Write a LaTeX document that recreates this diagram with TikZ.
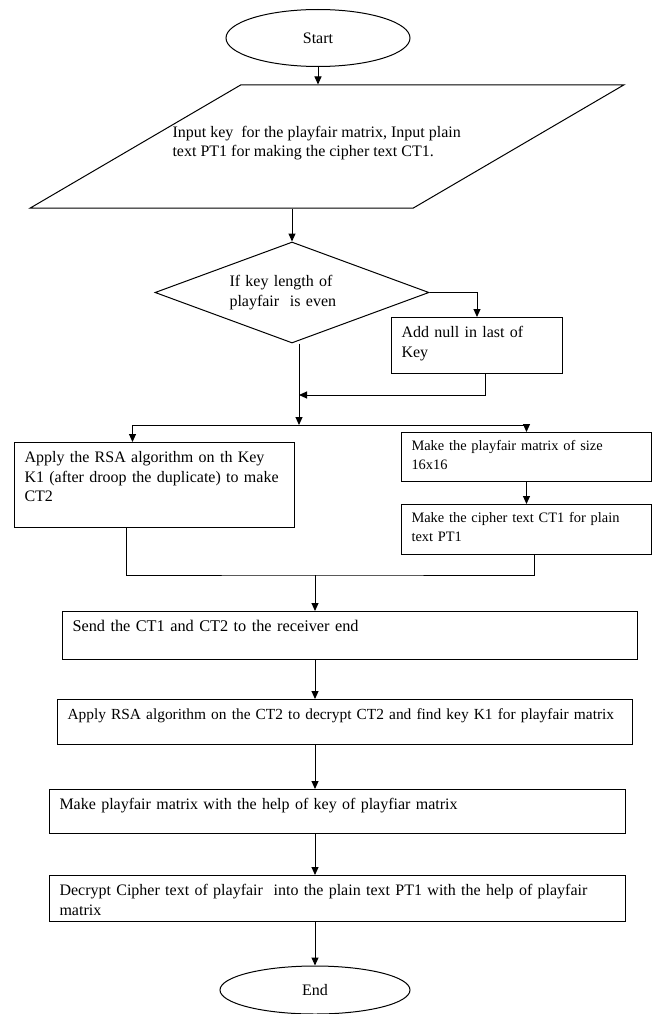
\documentclass[tikz,border=0pt]{standalone}
\usepackage{fontspec}
\setmainfont{Liberation Serif}
\usetikzlibrary{shapes.geometric}
\usetikzlibrary{arrows.meta}

\tikzset{
	procbox/.style={draw, rectangle, anchor=north west, inner xsep=10pt, inner ysep=0pt, align=left, text height=20pt},
	smallbox/.style={procbox, text height=18pt, font=\fontsize{14.4}{18.5}\selectfont},
	term/.style={draw, ellipse, inner sep=0pt},
	arr/.style={-{Triangle[length=8pt,width=7pt]}}
}

\begin{document}
\begin{tikzpicture}[x=1pt, y=-1pt, line width=1pt, font=\fontsize{16}{19.5}\selectfont]
		\useasboundingbox (0,0) rectangle (654,1014);
		\node[term, minimum width=184pt, minimum height=57pt] (start) at (318,38) {Start};
		\node[draw, trapezium, trapezium left angle=39.4, trapezium right angle=140.6, trapezium stretches=true, minimum width=594pt, minimum height=123pt, inner sep=2pt] (input) at (327,146.5) {};
		\node[anchor=north west, inner sep=0pt, align=left] (inputtext) at (172,125.5) {Input key\ \ for the playfair matrix, Input plain\\text PT1 for making the cipher text CT1.};
		\node[draw, diamond, aspect=2.7, minimum width=274pt, minimum height=101pt, inner sep=0pt, text width=125pt, align=left] (cond) at (292,292.5) {If key length of\\playfair\ \ is even};
		\node[procbox, text width=151pt, text depth=36pt] (addnull) at (391,317) {Add null in last of\\Key};
		\node[procbox, text width=260pt, text depth=65pt] (rsa) at (14,442) {Apply the RSA algorithm on th Key\\K1 (after droop the duplicate) to make\\CT2};
		\node[smallbox, text width=230pt, text depth=31pt] (matrix) at (401,432) {Make the playfair matrix of size\\16x16};
		\node[smallbox, text width=230pt, text depth=32pt] (cipher) at (401,504) {Make the cipher text CT1 for plain\\text PT1};
		\node[procbox, text width=555pt, text depth=28pt, font=\fontsize{16.3}{19.5}\selectfont] (send) at (62,611) {Send the CT1 and CT2 to the receiver end};
		\node[procbox, text width=555pt, text depth=25pt, font=\fontsize{15.4}{18}\selectfont] (decrsa) at (57,699) {Apply RSA algorithm on the CT2 to decrypt CT2 and find key K1 for playfair matrix};
		\node[procbox, text width=556pt, text depth=24pt] (keymat) at (49,789) {Make playfair matrix with the help of key of playfiar matrix};
		\node[procbox, text width=556pt, text depth=26pt] (decpf) at (49,875) {Decrypt Cipher text of playfair\ \ into the plain text PT1 with the help of playfair\\matrix};
		\node[term, minimum width=190pt, minimum height=48pt] (stop) at (315,990) {End};
		\coordinate (merge) at (299,395);
		\coordinate (split) at (299,425);
		\coordinate (join) at (315,575);
		\draw[arr] (start.south) -- (start.south |- input.north);
		\draw[arr] (cond.north |- input.south) -- (cond.north);
		\draw[arr] (cond.east) -| (addnull.north);
		\draw[arr] ([xshift=8pt]addnull.south) |- (merge);
		\draw[arr] ([xshift=7pt]cond.south) -- (split);
		\draw[arr] (split) -| ([xshift=-22pt]rsa.north);
		\draw[arr] (split) -| (matrix.north);
		\draw[arr] (matrix) -- (cipher);
		\draw ([xshift=-28pt]rsa.south) |- (join) -| ([xshift=8pt]cipher.south);
		\draw[arr] (join) -- (join |- send.north);
		\draw[arr] (join |- send.south) -- (join |- decrsa.north);
		\draw[arr] (join |- decrsa.south) -- (join |- keymat.north);
		\draw[arr] (join |- keymat.south) -- (join |- decpf.north);
		\draw[arr] (join |- decpf.south) -- (stop);
\end{tikzpicture}
\end{document}
